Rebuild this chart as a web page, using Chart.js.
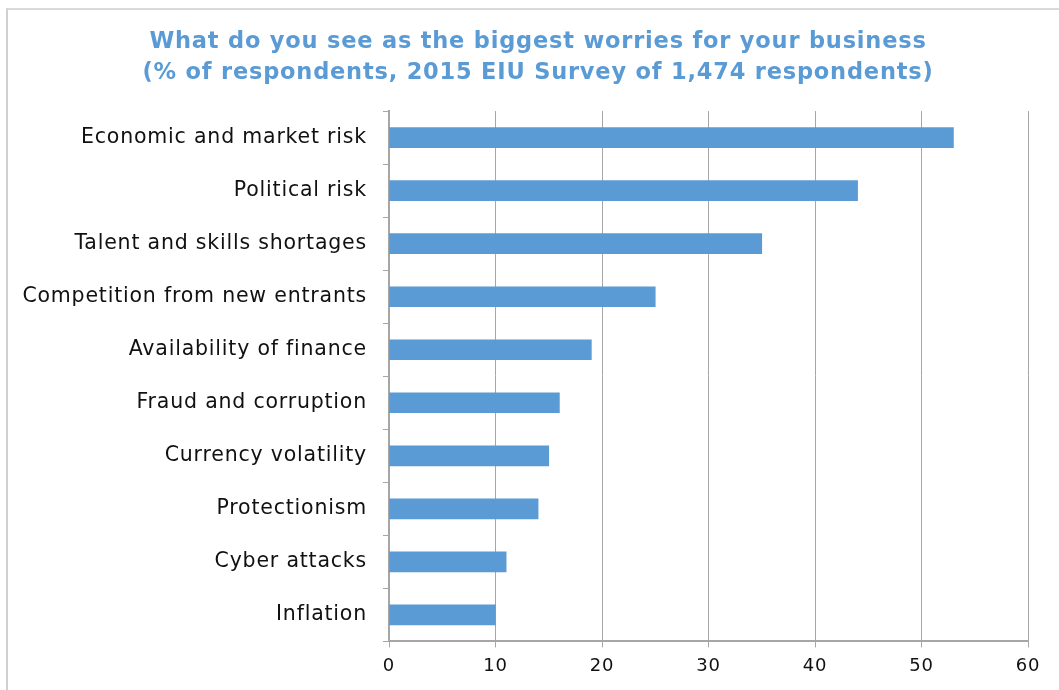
<!DOCTYPE html>
<html>
<head>
<meta charset="utf-8">
<script src="https://cdn.jsdelivr.net/npm/chart.js@4.4.0/dist/chart.umd.min.js"></script>
<style>
  html, body { margin: 0; padding: 0; background: #fff; overflow: hidden; }
  #frame { position: absolute; left: 6px; top: 8px; width: 1100px; height: 800px; border-left: 2px solid #d0d0d0; border-top: 2px solid #d9d9d9; }
  #wrap { position: absolute; left: 0; top: 0; width: 1059px; height: 690px; }
</style>
</head>
<body>
<div id="frame"></div>
<div id="wrap"><canvas id="c" width="1059" height="690"></canvas></div>
<script>
const categories = [
  "Economic and market risk",
  "Political risk",
  "Talent and skills shortages",
  "Competition from new entrants",
  "Availability of finance",
  "Fraud and corruption",
  "Currency volatility",
  "Protectionism",
  "Cyber attacks",
  "Inflation"
];
const respondentsPct = [53, 44, 35, 25, 19, 16, 15, 14, 11, 10];
const xTickMin = 0;
const xTickMax = 60;
const xTickStep = 10;
const titleLines = [
  "What do you see as the biggest worries for your business",
  "(% of respondents, 2015 EIU Survey of 1,474 respondents)"
];

const FONT = "'DejaVu Sans', Verdana, sans-serif";
const SPACING = '0.8px';

const spacingPlugin = {
  id: 'spacing',
  beforeUpdate(chart) { chart.ctx.letterSpacing = SPACING; },
  beforeLayout(chart) { chart.ctx.letterSpacing = SPACING; },
  beforeDraw(chart) { chart.ctx.letterSpacing = SPACING; }
};

new Chart(document.getElementById('c'), {
  type: 'bar',
  plugins: [spacingPlugin],
  data: {
    labels: categories,
    datasets: [{
      data: respondentsPct,
      backgroundColor: '#5b9bd5',
      borderWidth: 0,
      barThickness: 20
    }]
  },
  options: {
    indexAxis: 'y',
    responsive: false,
    animation: false,
    layout: { padding: { top: 27, left: 48, right: 31, bottom: 5 } },
    plugins: {
      legend: { display: false },
      tooltip: { enabled: false },
      title: {
        display: true,
        text: titleLines,
        color: '#5b9bd5',
        font: { family: FONT, size: 22.5, weight: 'bold', lineHeight: 1.38 },
        padding: { top: 0, bottom: 22 }
      }
    },
    scales: {
      x: {
        min: xTickMin,
        max: xTickMax,
        ticks: { stepSize: xTickStep, color: '#111', font: { family: FONT, size: 18 }, padding: 8 },
        grid: { color: '#a6a6a6', lineWidth: 1, tickLength: 6, drawTicks: true },
        border: { color: '#a6a6a6', width: 2 }
      },
      y: {
        afterFit(scale) {
          scale.width = 341;
          scale._computeLabelArea = () => null;
        },
        ticks: { color: '#111', font: { family: FONT, size: 20.5 }, padding: 16 },
        grid: { offset: true, drawOnChartArea: false, drawTicks: true, tickLength: 6, color: '#a6a6a6' },
        border: { color: '#a6a6a6', width: 2 }
      }
    }
  }
});
</script>
</body>
</html>
